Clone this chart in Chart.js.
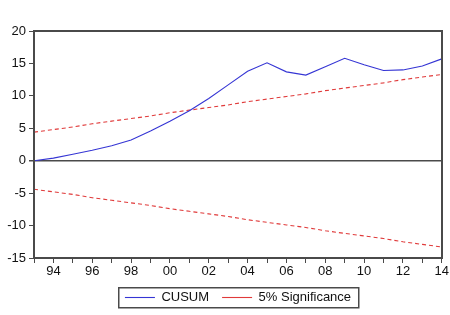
<!DOCTYPE html>
<html>
<head>
<meta charset="utf-8">
<script src="https://cdn.jsdelivr.net/npm/chart.js@4/dist/chart.umd.min.js"></script>
<style>
  html, body { margin: 0; padding: 0; background: #fff; }
  #wrap { width: 450px; height: 315px; }
</style>
</head>
<body>
<div id="wrap"><canvas id="c"></canvas></div>
<script>
const years = [1993, 1994, 1995, 1996, 1997, 1998, 1999, 2000, 2001, 2002, 2003,
               2004, 2005, 2006, 2007, 2008, 2009, 2010, 2011, 2012, 2013, 2014];
const cusum = [0, 0.4, 1.0, 1.6, 2.3, 3.2, 4.6, 6.1, 7.7, 9.6, 11.7,
               13.8, 15.1, 13.7, 13.2, 14.5, 15.8, 14.8, 13.9, 14.0, 14.6, 15.7];
const upper = [4.4, 4.8, 5.2, 5.7, 6.1, 6.5, 6.9, 7.4, 7.8, 8.2, 8.6,
               9.1, 9.5, 9.9, 10.3, 10.8, 11.2, 11.6, 12.0, 12.5, 12.9, 13.3];
const lower = upper.map(v => -v);
const yTicks = [-15, -10, -5, 0, 5, 10, 15, 20];

const BLUE = "#3535d4";
const RED = "#e03a3a";
const AXIS = "#4a4a4a";
const FONT = { family: "'Liberation Sans', Arial, sans-serif", size: 13 };

const pts = arr => arr.map((v, i) => ({ x: years[i], y: v }));

// frame round the plot, legend centred under the plot with a box round it
const frame = {
  id: "frame",
  afterLayout(chart) {
    chart.legend.left = chart.chartArea.left;
  },
  afterDraw(chart) {
    const { ctx, legend } = chart;
    const a = chart.chartArea;
    const L = Math.round(a.left), R = Math.round(a.right);
    const T = Math.round(a.top), B = Math.round(a.bottom);
    ctx.save();
    ctx.fillStyle = AXIS;
    ctx.fillRect(L - 1, T - 1, R - L + 2, 2);
    ctx.fillRect(L - 1, B - 1, R - L + 2, 2);
    ctx.fillRect(L - 1, T - 1, 2, B - T + 2);
    ctx.fillRect(R - 1, T - 1, 2, B - T + 2);
    const hb = legend.legendHitBoxes;
    if (hb && hb.length) {
      const l = Math.round(hb[0].left - 7);
      const last = hb[hb.length - 1];
      const r = Math.round(last.left + last.width + 7);
      const t = Math.round(hb[0].top - 4);
      const b = Math.round(hb[0].top + hb[0].height + 3);
      ctx.fillRect(l, t, r - l, 1.5);
      ctx.fillRect(l, b, r - l + 1.5, 1.5);
      ctx.fillRect(l, t, 1.5, b - t);
      ctx.fillRect(r, t, 1.5, b - t);
    }
    ctx.restore();
  }
};

new Chart(document.getElementById("c"), {
  type: "line",
  data: {
    datasets: [
      { label: "CUSUM", data: pts(cusum), borderColor: BLUE, borderWidth: 1.1,
        pointRadius: 0, tension: 0, fill: false },
      { label: "5% Significance", data: pts(upper), borderColor: RED, borderWidth: 1.1,
        borderDash: [4, 3], pointRadius: 0, tension: 0, fill: false },
      { label: "lower", data: pts(lower), borderColor: RED, borderWidth: 1.1,
        borderDash: [4, 3], pointRadius: 0, tension: 0, fill: false }
    ]
  },
  options: {
    responsive: true,
    maintainAspectRatio: false,
    animation: false,
    layout: { padding: { top: 31, right: 8, bottom: 1, left: 0 } },
    plugins: {
      tooltip: { enabled: false },
      legend: {
        position: "bottom",
        labels: {
          usePointStyle: true,
          pointStyle: "line",
          pointStyleWidth: 30,
          boxHeight: 9,
          color: "#111",
          font: FONT,
          padding: 13,
          filter: item => item.datasetIndex !== 2
        }
      }
    },
    scales: {
      x: {
        type: "linear",
        min: 1993,
        max: 2014,
        afterFit: s => { s.height = 20; },
        border: { display: false },
        grid: { drawOnChartArea: false, drawTicks: true, tickLength: 5, tickColor: AXIS },
        ticks: {
          stepSize: 1,
          autoSkip: false,
          maxRotation: 0,
          padding: 1,
          color: "#111",
          font: FONT,
          callback: v => (v % 2 === 0 ? String(v % 100).padStart(2, "0") : "")
        }
      },
      y: {
        min: -15,
        max: 20,
        afterFit: s => { s.width = 34; },
        afterBuildTicks: s => { s.ticks = yTicks.map(v => ({ value: v })); },
        border: { display: false },
        grid: {
          drawTicks: true,
          tickLength: 5,
          tickColor: AXIS,
          lineWidth: c => (c.tick && c.tick.value === 0 ? 1.5 : 1),
          color: c => (c.tick && c.tick.value === 0 ? AXIS : "rgba(0,0,0,0)")
        },
        ticks: { padding: 3, color: "#111", font: FONT }
      }
    }
  },
  plugins: [frame]
});
</script>
</body>
</html>
